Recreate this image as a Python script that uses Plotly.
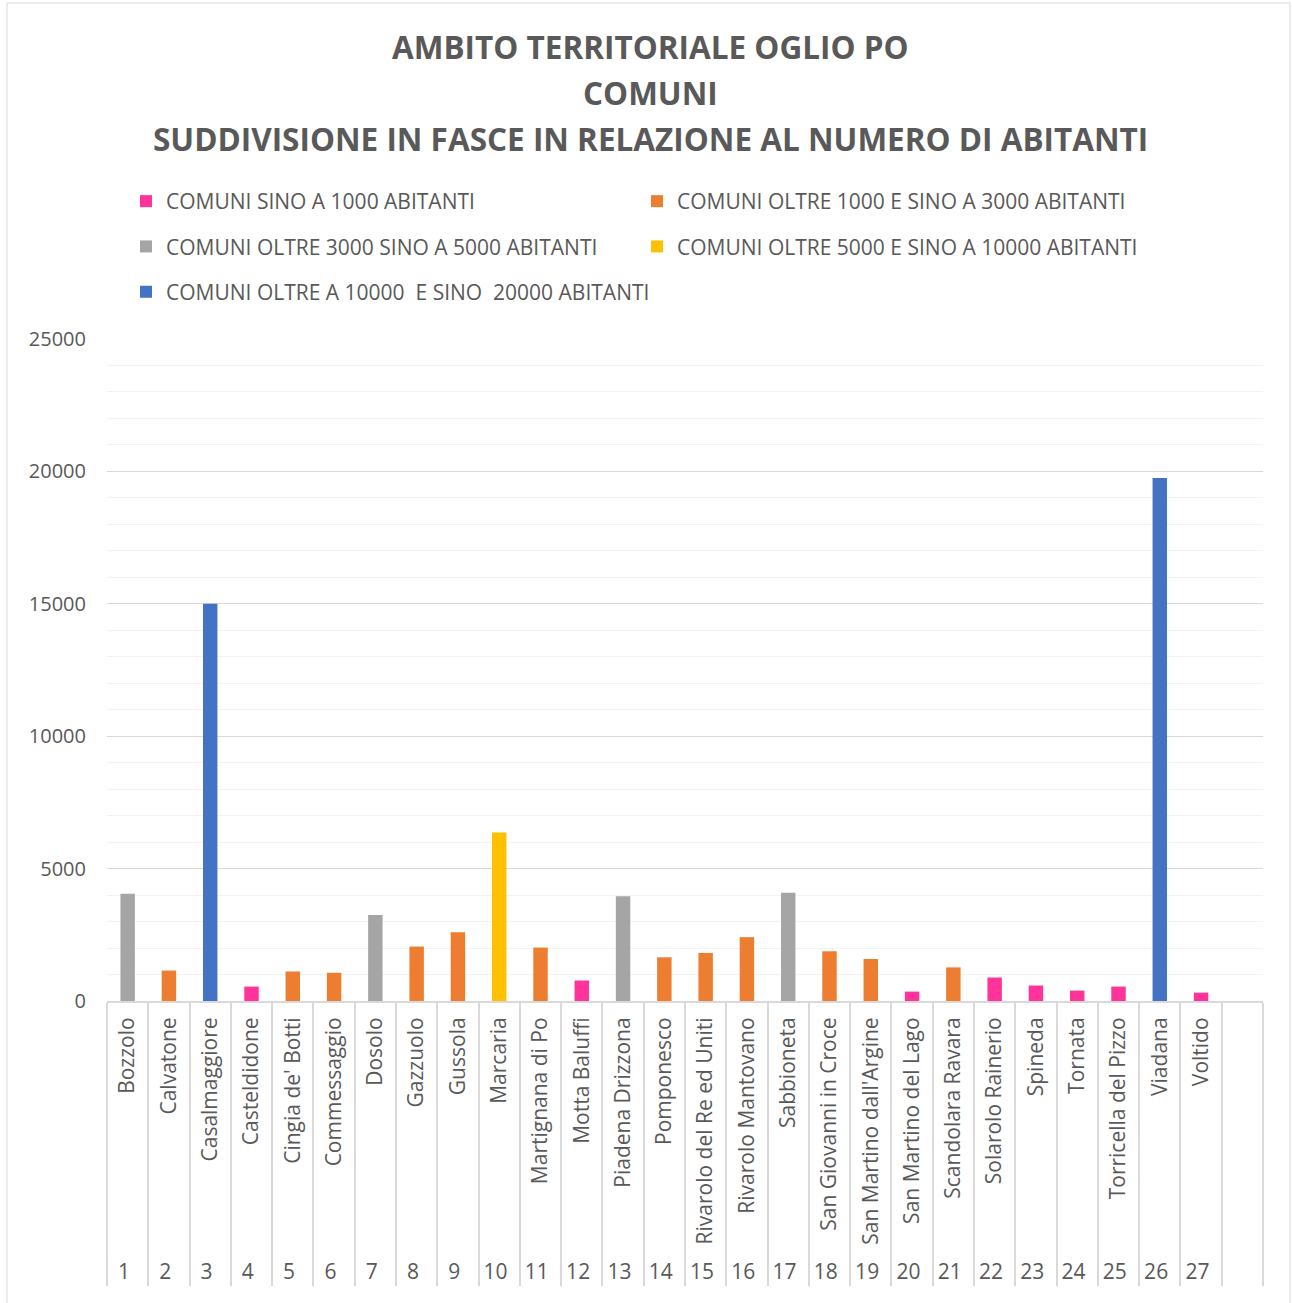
import plotly.graph_objects as go

# ---------------- data ----------------
numbers = [str(i) for i in range(1, 28)]
comuni = ["Bozzolo", "Calvatone", "Casalmaggiore", "Casteldidone", "Cingia de' Botti",
          "Commessaggio", "Dosolo", "Gazzuolo", "Gussola", "Marcaria",
          "Martignana di Po", "Motta Baluffi", "Piadena Drizzona", "Pomponesco",
          "Rivarolo del Re ed Uniti", "Rivarolo Mantovano", "Sabbioneta",
          "San Giovanni in Croce", "San Martino dall'Argine", "San Martino del Lago",
          "Scandolara Ravara", "Solarolo Rainerio", "Spineda", "Tornata",
          "Torricella del Pizzo", "Viadana", "Voltido"]
abitanti = [4050, 1150, 15000, 545, 1115, 1066, 3250, 2056, 2600, 6360,
            2018, 773, 3960, 1650, 1815, 2410, 4086, 1878, 1587, 355,
            1269, 888, 584, 393, 545, 19750, 316]
# band index of each comune (0..4)
fascia = [2, 1, 4, 0, 1, 1, 2, 1, 1, 3,
          1, 0, 2, 1, 1, 1, 2, 1, 1, 0,
          1, 0, 0, 0, 0, 4, 0]
series_names = ["COMUNI SINO A 1000 ABITANTI",
                "COMUNI OLTRE 1000 E SINO A 3000 ABITANTI",
                "COMUNI OLTRE 3000 SINO A 5000 ABITANTI",
                "COMUNI OLTRE 5000 E SINO A 10000 ABITANTI",
                "COMUNI OLTRE A 10000  E SINO  20000 ABITANTI"]
series_colors = ["#FF3399", "#ED7D31", "#A5A5A5", "#FFC000", "#4472C4"]
# Excel chart range includes one trailing empty row
blank_num, blank_name = " ", " "

TXT = "#595959"
FONT = "Open Sans"

W, H = 1292, 1303
L, R, T, B = 107, 29, 339, 302
PW, PH = W - L - R, H - T - B


def px_x(p):
    return (p - L) / PW


def px_y(p):
    return (H - B - p) / PH


x_outer = numbers + [blank_num]
x_inner = comuni + [blank_name]

fig = go.Figure()
legend_of = {0: "legend", 2: "legend", 4: "legend", 1: "legend2", 3: "legend2"}
for s, (nm, col) in enumerate(zip(series_names, series_colors)):
    ys = [v if f == s else None for v, f in zip(abitanti, fascia)] + [None]
    fig.add_trace(go.Bar(
        x=[x_outer, x_inner], y=ys, name=nm,
        marker=dict(color=col, line=dict(width=0)),
        width=0.35, legend=legend_of[s], legendgroup=f"g{s}",
    ))

# titles
for txt, py in [("AMBITO TERRITORIALE OGLIO PO", 47),
                ("COMUNI", 92),
                ("SUDDIVISIONE IN FASCE IN RELAZIONE AL NUMERO DI ABITANTI", 138)]:
    fig.add_annotation(text=f"<b>{txt}</b>", xref="paper", yref="paper",
                       x=px_x(650), y=px_y(py), xanchor="center", yanchor="middle",
                       showarrow=False, font=dict(family=FONT, size=31.5, color=TXT))

# chart frame
fig.add_shape(type="rect", xref="paper", yref="paper",
              x0=px_x(7), x1=px_x(1290), y0=px_y(1310), y1=px_y(3),
              line=dict(color="#D9D9D9", width=1), layer="below")

legend_common = dict(orientation="v", font=dict(family=FONT, size=21, color=TXT),
                     bgcolor="rgba(0,0,0,0)", borderwidth=0, tracegroupgap=15,
                     yanchor="top", xanchor="left", itemclick=False)

fig.update_layout(
    width=W, height=H,
    margin=dict(l=L, r=R, t=T, b=B, autoexpand=False),
    paper_bgcolor="white", plot_bgcolor="white",
    barmode="overlay",
    showlegend=True,
    legend=dict(**legend_common, x=px_x(126), y=px_y(181)),
    legend2=dict(**legend_common, x=px_x(637), y=px_y(181)),
    xaxis=dict(
        type="multicategory",
        tickangle=-90,
        tickfont=dict(family=FONT, size=21, color=TXT),
        showline=True, linecolor="#D9D9D9", linewidth=2,
        showgrid=False,
        showdividers=True, dividercolor="#D9D9D9", dividerwidth=2,
        ticks="",
        ticklabelstandoff=6,
    ),
    yaxis=dict(
        range=[0, 25000], dtick=5000, tick0=0, tickformat="d",
        showgrid=True, gridcolor="#D9D9D9", gridwidth=1,
        minor=dict(dtick=1000, showgrid=True, gridcolor="#F2F2F2", gridwidth=1),
        zeroline=False, showline=False,
        tickfont=dict(family=FONT, size=20, color=TXT),
        ticklabelstandoff=20,
    ),
)

fig.write_html("out.html", config={"displayModeBar": False},
               post_script="document.body.style.margin='0';")
